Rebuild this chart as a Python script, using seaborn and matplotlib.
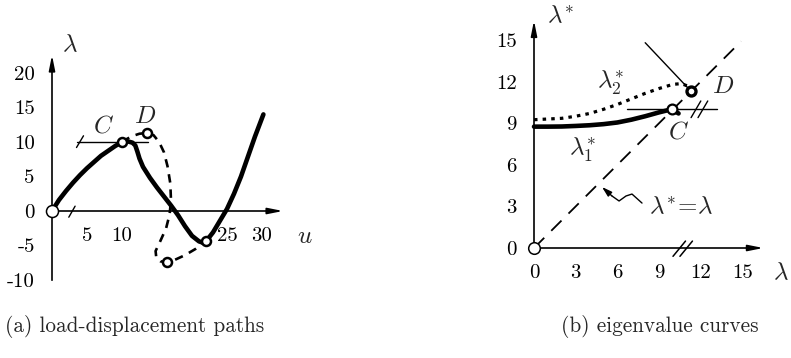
import numpy as np
import pandas as pd
import matplotlib
matplotlib.use("Agg")
import matplotlib.pyplot as plt
import seaborn as sns

# ---- (a) load-displacement paths ----
u_primary = [0, 1, 2, 3, 4, 5, 6, 7, 8, 9, 10, 10.8, 11.5, 11.9, 12.2, 12.5, 13,
             14, 15, 16, 17, 18, 19, 20, 21, 21.6, 22, 23, 24, 25, 26, 27, 28, 29, 30.2]
lam_primary = [0, 1.6, 2.9, 4.1, 5.2, 6.2, 7.1, 8.0, 8.7, 9.4, 10.0, 10.1, 9.9, 9.5, 8.6, 7.6, 6.4,
               4.8, 3.4, 2.1, 0.8, -0.6, -2.2, -3.6, -4.4, -4.6, -4.4, -3.1, -1.4, 0.3, 2.5, 5.0, 7.9, 10.8, 14.0]

u_secondary = [10, 10.8, 11.6, 12.5, 13.5, 14.5, 15.3, 16.0, 16.5, 16.9, 17.0, 16.8, 16.3,
               15.5, 14.8, 14.9, 15.5, 16.4, 17.5, 19.0, 20.5, 22.0]
lam_secondary = [10, 10.5, 10.9, 11.2, 11.3, 11.0, 10.0, 8.5, 6.5, 4.0, 1.5, -0.5, -2.5,
                 -4.3, -5.8, -6.8, -7.3, -7.4, -7.1, -6.4, -5.5, -4.3]

# marked states on the paths: C, D and the two lower points
u_marks = [10, 13.5, 16.4, 22.0]
lam_marks = [10, 11.3, -7.4, -4.3]

u_ticks = [5, 10, 15, 20, 25, 30]
u_tick_labels = ["5", "10", "", "", "25", "30"]
lam_ticks = [-10, -5, 0, 5, 10, 15, 20]
lam_tick_labels = ["-10", "-5", "0", "5", "10", "15", "20"]

# ---- (b) eigenvalue curves ----
lam_1 = [0, 1, 2, 3, 4, 5, 6, 7, 8, 9, 9.9, 10.4]
eig_1 = [8.75, 8.75, 8.76, 8.8, 8.85, 8.93, 9.05, 9.25, 9.5, 9.78, 10.0, 9.7]

lam_2 = [0, 1, 2, 3, 4, 5, 6, 7, 8, 9, 10, 10.6, 11.0, 11.3]
eig_2 = [9.25, 9.3, 9.35, 9.5, 9.7, 10.0, 10.35, 10.75, 11.15, 11.5, 11.8, 11.85, 11.7, 11.3]

lam_diag = [0, 14.9]
point_C = (9.9, 10.0)
point_D = (11.3, 11.3)

b_ticks = [0, 3, 6, 9, 12, 15]
b_tick_labels = ["0", "3", "6", "9", "12", "15"]

sns.set_style("white")
plt.rcParams["font.family"] = ["cmr10", "DejaVu Serif"]
plt.rcParams["mathtext.fontset"] = "cm"
plt.rcParams["axes.unicode_minus"] = False
plt.rcParams["axes.formatter.use_mathtext"] = True

W, H = 791, 358
fig = plt.figure(figsize=(W / 100, H / 100), dpi=100)


def px_axes(left, top, right, bottom):
    return fig.add_axes([left / W, 1 - bottom / H, (right - left) / W, (bottom - top) / H])


def style_axes(ax, xb, yb, xarrow, yarrow):
    ax.patch.set_visible(False)
    for s in ("top", "right"):
        ax.spines[s].set_visible(False)
    for s in ("left", "bottom"):
        ax.spines[s].set_position(("data", 0))
        ax.spines[s].set_color("k")
        ax.spines[s].set_linewidth(1.2)
        ax.spines[s].set_zorder(1)
    ax.spines["bottom"].set_bounds(*xb)
    ax.spines["left"].set_bounds(*yb)
    ax.tick_params(direction="inout", length=7, width=1.1, colors="k", labelsize=15)
    ax.tick_params(axis="x", pad=8)
    ax.tick_params(axis="y", pad=9)
    arrow = dict(arrowstyle="-|>,head_length=0.9,head_width=0.18", color="k", lw=1.2,
                 shrinkA=0, shrinkB=0)
    ax.annotate("", xy=(xarrow, 0), xytext=(xb[1] - 0.5, 0), arrowprops=arrow,
                annotation_clip=False)
    ax.annotate("", xy=(0, yarrow), xytext=(0, yb[1] - 0.5), arrowprops=arrow,
                annotation_clip=False)
    ax.set_xlabel("")
    ax.set_ylabel("")


# ---------------- panel (a) ----------------
axA = px_axes(52 - 6 * 7, 211 - 24 * 6.9, 52 + 36 * 7, 211 + 13 * 6.9)
axA.set_xlim(-6, 36)
axA.set_ylim(-13, 24)

sns.lineplot(x=u_secondary, y=lam_secondary, ax=axA, sort=False, estimator=None,
             color="k", lw=1.9, linestyle=(0, (3.2, 2.6)), zorder=3)
sns.lineplot(x=u_primary, y=lam_primary, ax=axA, sort=False, estimator=None,
             color="k", lw=3.3, solid_capstyle="round", solid_joinstyle="round", zorder=4)
sns.scatterplot(x=u_marks, y=lam_marks, ax=axA, s=42, facecolor="white",
                edgecolor="k", linewidth=1.8, zorder=6)
sns.scatterplot(x=[0], y=[0], ax=axA, s=75, facecolor="white",
                edgecolor="k", linewidth=1.1, zorder=6, clip_on=False)

style_axes(axA, (0, 32.0), (-10, 21.6), 33.0, 22.6)
axA.set_xticks(u_ticks, labels=u_tick_labels)
axA.set_yticks(lam_ticks, labels=lam_tick_labels)

# horizontal tangent at C with its crossing stroke, and the break on the u-axis
axA.plot([3.6, 13.7], [10, 10], color="k", lw=1.0, zorder=2)
axA.plot([3.5, 4.5], [9.2, 10.9], color="k", lw=1.0, zorder=2)
axA.plot([2.4, 3.3], [-0.9, 0.7], color="k", lw=1.0, zorder=2)

axA.text(2.6, 24.0, r"$\lambda$", fontsize=18, ha="center", va="center")
axA.text(36.1, -3.8, r"$u$", fontsize=18, ha="center", va="center", clip_on=False)
axA.text(7.3, 12.2, r"$C$", fontsize=18, ha="center", va="center")
axA.text(13.3, 13.6, r"$D$", fontsize=18, ha="center", va="center")

# ---------------- panel (b) ----------------
axB = px_axes(534 - 2 * 13.9, 248 - 17.5 * 13.87, 534 + 18 * 13.9, 248 + 2 * 13.87)
axB.set_xlim(-2, 18)
axB.set_ylim(-2, 17.5)

sns.lineplot(x=lam_diag, y=lam_diag, ax=axB, sort=False, estimator=None,
             color="k", lw=1.3, linestyle=(0, (8, 5.5)), zorder=2)
sns.lineplot(x=lam_2, y=eig_2, ax=axB, sort=False, estimator=None,
             color="k", lw=2.3, linestyle=(0, (1.1, 1.6)), zorder=3)
sns.lineplot(x=lam_1, y=eig_1, ax=axB, sort=False, estimator=None,
             color="k", lw=3.3, solid_capstyle="round", zorder=4)
sns.scatterplot(x=[point_C[0]], y=[point_C[1]], ax=axB, s=50, facecolor="white",
                edgecolor="k", linewidth=1.6, zorder=6)
sns.scatterplot(x=[point_D[0]], y=[point_D[1]], ax=axB, s=42, facecolor="white",
                edgecolor="k", linewidth=2.4, zorder=6)
sns.scatterplot(x=[0], y=[0], ax=axB, s=70, facecolor="white",
                edgecolor="k", linewidth=1.1, zorder=6, clip_on=False)

style_axes(axB, (0, 15.8), (0, 15.8), 16.5, 16.4)
axB.set_xticks(b_ticks, labels=b_tick_labels)
axB.set_yticks(b_ticks, labels=b_tick_labels)

# tangent at C with break strokes, break on the lambda-axis, line into D
axB.plot([6.7, 13.2], [10, 10], color="k", lw=1.0, zorder=2)
for dx in (0.0, 0.5):
    axB.plot([11.3 + dx, 12.0 + dx], [9.4, 10.6], color="k", lw=1.0, zorder=2)
    axB.plot([10.0 + dx, 10.9 + dx], [-0.6, 0.5], color="k", lw=1.1, zorder=2)
axB.plot([8.0, point_D[0]], [14.8, point_D[1]], color="k", lw=1.0, zorder=2)

axB.text(1.9, 16.7, r"$\lambda^{*}$", fontsize=18, ha="center", va="center")
axB.text(18.35, -1.8, r"$\lambda$", fontsize=18, ha="right", va="center", clip_on=False)
axB.text(5.5, 11.9, r"$\lambda_2^{*}$", fontsize=18, ha="center", va="center")
axB.text(3.5, 7.1, r"$\lambda_1^{*}$", fontsize=18, ha="center", va="center")
axB.text(10.4, 8.3, r"$C$", fontsize=18, ha="center", va="center")
axB.text(13.6, 11.6, r"$D$", fontsize=18, ha="center", va="center")
axB.text(10.6, 2.9, r"$\lambda^{*}\!=\!\lambda$", fontsize=18, ha="center", va="center")

# wavy leader from the diagonal's label to the diagonal
wave_x = [7.77, 7.05, 6.62, 6.12, 5.61]
wave_y = [3.24, 3.89, 3.75, 3.39, 3.75]
axB.plot(wave_x, wave_y, color="k", lw=1.0, solid_joinstyle="round", zorder=2)
axB.annotate("", xy=(4.89, 4.4), xytext=(wave_x[-1], wave_y[-1]),
             arrowprops=dict(arrowstyle="-|>,head_length=0.6,head_width=0.18", color="k",
                             lw=1.0, shrinkA=0, shrinkB=0))

# captions
fig.text(135 / W, 1 - 327 / H, "(a) load-displacement paths", fontsize=15.3,
         ha="center", va="center")
fig.text(660 / W, 1 - 327 / H, "(b) eigenvalue curves", fontsize=15.3,
         ha="center", va="center")

fig.savefig("out.png", dpi=100)
